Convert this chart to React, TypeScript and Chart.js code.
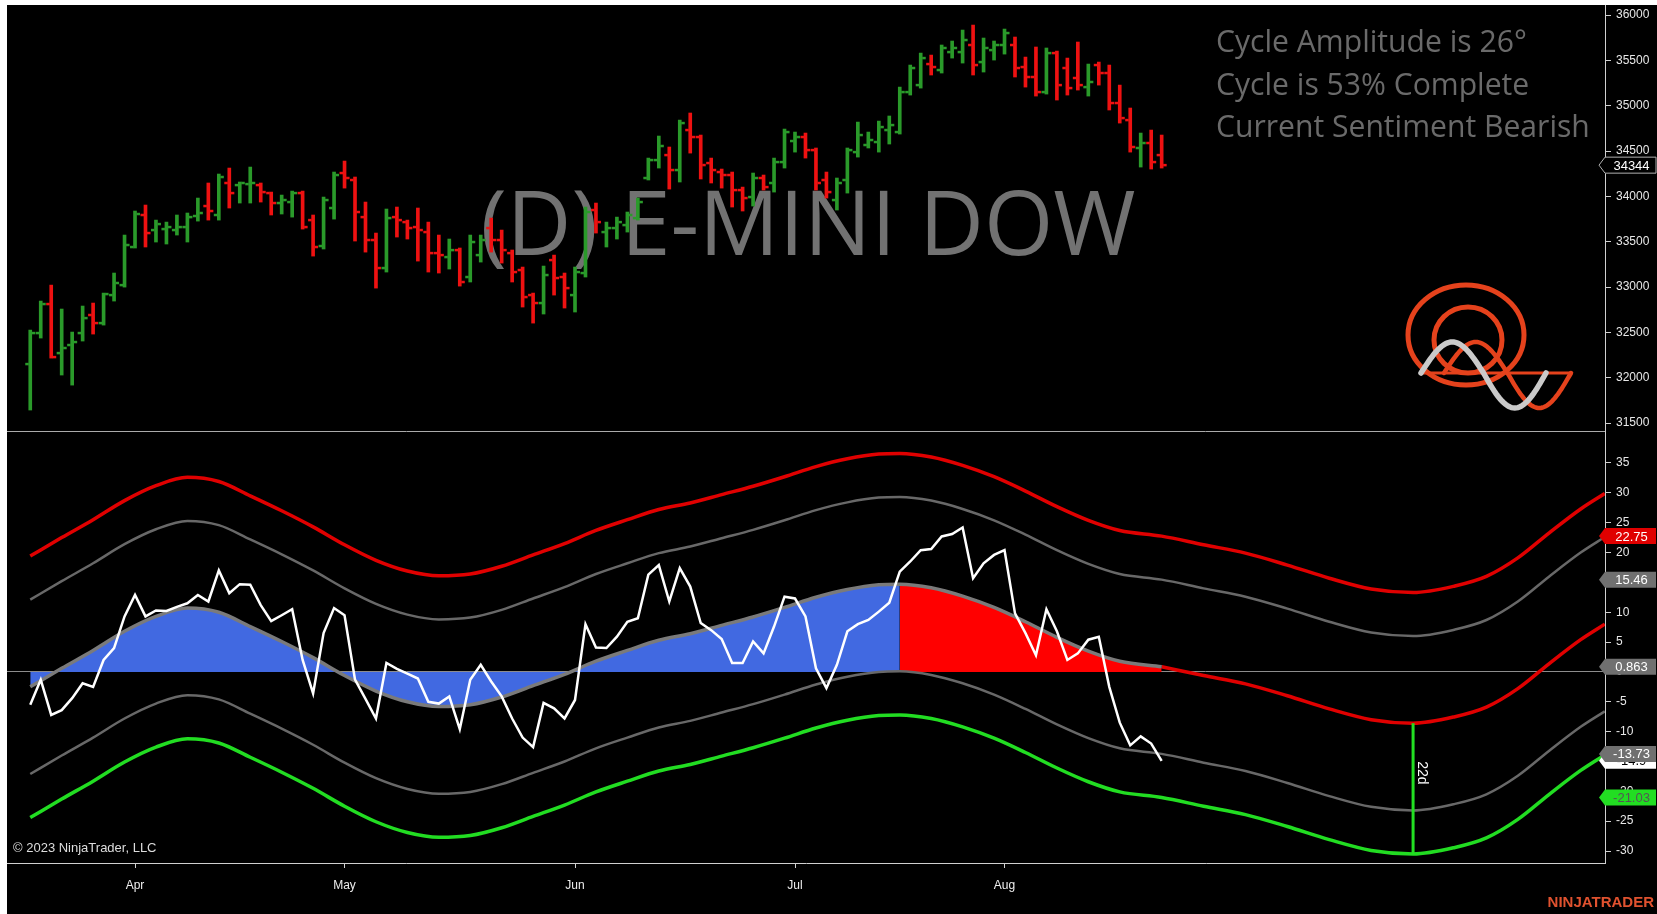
import React, { useEffect, useRef } from "react";
import { Chart, registerables } from "chart.js";
Chart.register(...registerables);

// ---------------- DATA ----------------
const barDates = [
  "03-20","03-21","03-22","03-23","03-24","03-27","03-28","03-29","03-30","03-31",
  "04-03","04-04","04-05","04-06","04-07","04-10","04-11","04-12","04-13","04-14",
  "04-17","04-18","04-19","04-20","04-21","04-24","04-25","04-26","04-27","04-28",
  "05-01","05-02","05-03","05-04","05-05","05-08","05-09","05-10","05-11","05-12",
  "05-15","05-16","05-17","05-18","05-19","05-22","05-23","05-24","05-25","05-26",
  "05-30","05-31","06-01","06-02","06-05","06-06","06-07","06-08","06-09","06-12",
  "06-13","06-14","06-15","06-16","06-20","06-21","06-22","06-23","06-26","06-27",
  "06-28","06-29","06-30","07-03","07-05","07-06","07-07","07-10","07-11","07-12",
  "07-13","07-14","07-17","07-18","07-19","07-20","07-21","07-24","07-25","07-26",
  "07-27","07-28","07-31","08-01","08-02","08-03","08-04","08-07","08-08","08-09",
  "08-10","08-11","08-14","08-15","08-16","08-17","08-18","08-21","08-22",
];

const opens = [
  32150,32492,32812,32271,32360,32492,32691,32602,32911,33021,
  33441,33794,33628,33639,33628,33661,33783,33893,33794,34147,
  34124,34135,34124,34036,33926,33937,34036,33738,33452,33871,
  34257,34180,33771,33518,33209,33771,33716,33661,33606,33374,
  33330,33407,33110,33352,33650,33518,33374,33187,32911,32823,
  33297,33110,32911,33154,33849,33606,33650,33683,33760,34202,
  34400,34455,34290,34731,34654,34367,34268,34235,34069,33992,
  34202,34147,34378,34610,34654,34510,34180,33959,34180,34488,
  34566,34599,34731,34709,35150,35227,35459,35393,35591,35591,
  35669,35481,35613,35669,35669,35426,35316,35150,35580,35415,
  35305,35205,35448,35360,35029,34841,34533,34588,34455,
];
const highs = [
  32525,32845,33021,32757,32503,32790,32823,32933,33154,33573,
  33838,33904,33738,33716,33794,33816,33981,34147,34246,34312,
  34158,34323,34147,34047,34014,34058,34058,33794,33992,34268,
  34389,34213,33937,33595,33860,33882,33738,33871,33716,33573,
  33529,33430,33573,33573,33760,33628,33408,33220,32933,33231,
  33352,33154,33220,33882,33926,33716,33771,33827,33981,34422,
  34665,34544,34841,34919,34676,34422,34301,34268,34102,34257,
  34235,34422,34742,34709,34698,34533,34268,34202,34533,34819,
  34709,34830,34886,35205,35448,35580,35558,35669,35713,35834,
  35889,35746,35713,35845,35757,35536,35647,35636,35602,35525,
  35702,35459,35481,35448,35227,34974,34698,34731,34676,
];
const lows = [
  31643,32437,32216,32029,31918,32404,32481,32580,32845,32999,
  33430,33441,33496,33474,33573,33496,33727,33738,33738,33871,
  33926,33926,33937,33794,33805,33771,33639,33341,33419,33749,
  34091,33507,33385,32988,33165,33551,33529,33286,33165,33154,
  33198,33010,33055,33275,33385,33264,33055,32779,32602,32702,
  32911,32768,32724,33110,33595,33441,33529,33606,33738,34180,
  34312,34080,34158,34477,34191,34147,34091,33882,33838,33893,
  34069,34047,34312,34488,34422,34069,33981,33849,34036,34433,
  34533,34488,34577,34687,35117,35194,35338,35360,35525,35470,
  35338,35371,35503,35569,35316,35205,35106,35128,35062,35117,
  35172,35106,35227,34952,34808,34488,34323,34301,34312,
];
const closes = [
  32492,32812,32227,32327,32393,32657,32602,32922,33044,33463,
  33805,33595,33694,33661,33661,33771,33816,33838,34213,34036,
  34147,34147,34047,33926,33959,34036,33661,33441,33959,34235,
  34202,33827,33518,33209,33760,33738,33650,33628,33374,33352,
  33407,33055,33496,33518,33518,33407,33165,32889,32823,33132,
  33099,32988,33165,33827,33716,33650,33716,33794,33937,34400,
  34555,34290,34808,34654,34345,34290,34235,34069,33981,34202,
  34102,34378,34709,34654,34510,34147,34047,34147,34510,34676,
  34621,34764,34786,35150,35415,35525,35426,35636,35636,35724,
  35448,35636,35669,35801,35415,35316,35150,35580,35227,35194,
  35227,35261,35360,35029,34863,34544,34588,34378,34344,
];
const priceTicks = [31500,32000,32500,33000,33500,34000,34500,35000,35500,36000];

const oscillator = [
  -5.5,-1.3,-7.2,-6.4,-4.4,-1.9,-2.5,2.0,4.0,9.3,
  12.9,9.3,10.3,10.2,10.9,11.5,12.9,11.8,17.0,13.2,
  14.7,14.6,11.2,8.5,9.5,10.5,2.0,-3.6,6.5,10.7,
  9.5,-1.3,-4.5,-7.8,1.5,0.5,-0.3,-1.1,-5.0,-5.3,
  -4.1,-9.6,-1.3,1.2,-1.6,-4.1,-7.8,-11.0,-12.6,-5.2,
  -6.1,-7.8,-4.7,8.0,4.1,4.0,5.9,8.4,9.0,16.3,
  17.9,11.8,17.4,14.3,8.2,7.0,5.5,1.5,1.5,5.1,
  3.1,7.6,12.6,12.3,9.3,0.6,-2.7,1.2,6.8,8.0,
  8.7,10.1,11.6,16.8,18.5,20.4,20.6,22.7,23.1,24.2,
  15.7,18.2,19.6,20.4,9.8,6.5,2.8,10.5,6.8,2.0,
  3.1,5.4,5.9,-2.5,-8.5,-12.3,-10.8,-12.0,-14.9,
];

// bar positions (0 = first bar, >108 = projection into the future)
const bandBars = [
  0,3,6,9,12,15,18,21,24,27,30,33,36,39,42,45,48,51,54,57,60,63,66,69,72,75,78,81,
  83,86,89,92,95,98,101,104,108,
  112,116,120,124,128,132,136,139,142,145,148,150.3,
];
const cycleLine = [
  -2.5,0.6,3.6,6.8,9.3,10.7,10.0,7.6,5.1,2.4,-0.6,-3.2,-5.0,-5.8,-5.5,-4.2,-2.3,-0.4,1.8,3.6,5.3,6.4,7.8,9.2,10.8,12.5,13.8,14.6,
  14.7,14.1,12.7,10.8,8.4,5.8,3.5,1.8,0.863,
  -0.6,-2.0,-4.0,-6.2,-8.0,-8.6,-7.5,-5.9,-2.8,1.4,5.4,8.0,
];
const upperOuterBand = [
  19.4,22.5,25.5,28.7,31.2,32.6,31.9,29.5,27.0,24.3,21.3,18.7,16.9,16.1,16.4,17.7,19.6,21.5,23.7,25.5,27.2,28.3,29.7,31.1,32.7,34.4,35.7,36.5,
  36.6,36.0,34.6,32.7,30.3,27.7,25.4,23.7,22.75,
  21.3,19.9,17.9,15.7,13.9,13.3,14.4,16.0,19.1,23.3,27.3,29.9,
];
const upperInnerBand = [
  12.1,15.2,18.2,21.4,23.9,25.3,24.6,22.2,19.7,17.0,14.0,11.4,9.6,8.8,9.1,10.4,12.3,14.2,16.4,18.2,19.9,21.0,22.4,23.8,25.4,27.1,28.4,29.2,
  29.3,28.7,27.3,25.4,23.0,20.4,18.1,16.4,15.46,
  14.0,12.6,10.6,8.4,6.6,6.0,7.1,8.7,11.8,16.0,20.0,22.6,
];
const lowerInnerBand = [
  -17.1,-14.0,-11.0,-7.8,-5.3,-3.9,-4.6,-7.0,-9.5,-12.2,-15.2,-17.8,-19.6,-20.4,-20.1,-18.8,-16.9,-15.0,-12.8,-11.0,-9.3,-8.2,-6.8,-5.4,-3.8,-2.1,-0.8,0.0,
  0.1,-0.5,-1.9,-3.8,-6.2,-8.8,-11.1,-12.8,-13.73,
  -15.2,-16.6,-18.6,-20.8,-22.6,-23.2,-22.1,-20.5,-17.4,-13.2,-9.2,-6.6,
];
const lowerOuterBand = [
  -24.4,-21.3,-18.3,-15.1,-12.6,-11.2,-11.9,-14.3,-16.8,-19.5,-22.5,-25.1,-26.9,-27.7,-27.4,-26.1,-24.2,-22.3,-20.1,-18.3,-16.6,-15.5,-14.1,-12.7,-11.1,-9.4,-8.1,-7.3,
  -7.2,-7.8,-9.2,-11.1,-13.5,-16.1,-18.4,-20.1,-21.03,
  -22.5,-23.9,-25.9,-28.1,-29.9,-30.5,-29.4,-27.8,-24.7,-20.5,-16.5,-13.9,
];
const oscTicks = [35,30,25,20,15,10,5,0,-5,-10,-15,-20,-25,-30];

const monthTickDates = ["04-03","05-01","06-01","07-03","08-01"];
const monthLabels = ["Apr","May","Jun","Jul","Aug"];

const peakBar = 83;
const projectionStartBar = 108;
const cycleLowBar = 132;
const cycleLowLabel = "22d";

const chartTitle = "(D) E-MINI DOW";
const infoLines = ["Cycle Amplitude is 26°", "Cycle is 53% Complete", "Current Sentiment Bearish"];
const copyrightText = "© 2023 NinjaTrader, LLC";
const brandText = "NINJATRADER";

// ---------------- LAYOUT / STYLE ----------------
const W = 1657;
const TOP_H = 431;
const BOT_H = 483;
const X_MIN = -2.22;
const X_MAX = 150.32;
const PRICE_MIN = 31411.8;
const PRICE_MAX = 36110.3;
const OSC_MIN = -32.01;
const OSC_MAX = 40.36;
const AXIS_W = 52;
const FONT = "'Liberation Sans', Arial, sans-serif";
const UP = "#2a9a2a";
const DOWN = "#ee1111";
const ORANGE = "#e5421c";

function drawTag(ctx: any, axisX: number, y: number, text: string, fill: string, stroke: string | null, color: string) {
  const h = 16, tip = 6, right = W - 1;
  ctx.save();
  ctx.beginPath();
  ctx.moveTo(axisX - tip, y);
  ctx.lineTo(axisX, y - h / 2);
  ctx.lineTo(right, y - h / 2);
  ctx.lineTo(right, y + h / 2);
  ctx.lineTo(axisX, y + h / 2);
  ctx.closePath();
  ctx.fillStyle = fill;
  ctx.fill();
  if (stroke) { ctx.strokeStyle = stroke; ctx.lineWidth = 1; ctx.stroke(); }
  ctx.fillStyle = color;
  ctx.font = `13px ${FONT}`;
  ctx.textAlign = "center";
  ctx.textBaseline = "middle";
  ctx.fillText(text, (axisX + right) / 2 + 1, y + 1);
  ctx.restore();
}

function drawWave(ctx: any, x0: number, base: number, period: number, up: number, down: number, color: string, w: number) {
  ctx.beginPath();
  for (let k = 0; k <= 80; k++) {
    const t = k / 80;
    const s = Math.sin(2 * Math.PI * t);
    const y = base - (s > 0 ? s * up : s * down);
    const x = x0 + t * period;
    if (k === 0) ctx.moveTo(x, y); else ctx.lineTo(x, y);
  }
  ctx.strokeStyle = color;
  ctx.lineWidth = w;
  ctx.lineCap = "round";
  ctx.stroke();
}

const priceDecor = {
  id: "priceDecor",
  beforeDatasetsDraw(chart: any) {
    const ctx = chart.ctx;
    ctx.save();
    let size = 88;
    ctx.font = `${size}px 'Open Sans'`;
    size = size * 655 / ctx.measureText(chartTitle).width;
    ctx.font = `${size}px 'Open Sans'`;
    ctx.fillStyle = "#727272";
    ctx.textAlign = "center";
    ctx.textBaseline = "alphabetic";
    ctx.fillText(chartTitle, 808, 255);
    let isz = 30;
    ctx.font = `${isz}px 'Open Sans'`;
    isz = isz * 374 / ctx.measureText(infoLines[2]).width;
    ctx.font = `${isz}px 'Open Sans'`;
    ctx.fillStyle = "#6a6a6a";
    ctx.textAlign = "left";
    const bases = [52, 95, 137];
    infoLines.forEach((t, i) => ctx.fillText(t, 1216, bases[i]));
    ctx.restore();
  },
  afterDatasetsDraw(chart: any) {
    const ctx = chart.ctx;
    const xs = chart.scales.x, ys = chart.scales.y;
    ctx.save();
    for (let i = 0; i < opens.length; i++) {
      const x = xs.getPixelForValue(i);
      ctx.fillStyle = closes[i] >= opens[i] ? UP : DOWN;
      const yo = ys.getPixelForValue(opens[i]);
      const yc = ys.getPixelForValue(closes[i]);
      ctx.fillRect(x - 1.5 - 3.5, yo - 1.25, 3.5, 2.5);
      ctx.fillRect(x + 1.5, yc - 1.25, 3.5, 2.5);
    }
    ctx.lineWidth = 5;
    ctx.strokeStyle = ORANGE;
    ctx.beginPath(); ctx.ellipse(1466, 335, 58, 50, 0, 0, Math.PI * 2); ctx.stroke();
    ctx.beginPath(); ctx.ellipse(1468, 340, 34, 33, 0, 0, Math.PI * 2); ctx.stroke();
    ctx.lineWidth = 3;
    ctx.beginPath(); ctx.moveTo(1421, 373); ctx.lineTo(1571, 373); ctx.stroke();
    drawWave(ctx, 1444, 373, 127, 31, 35, ORANGE, 4.5);
    drawWave(ctx, 1421, 373, 125, 31, 35, "#cacaca", 5.5);
    ctx.restore();
  },
  afterDraw(chart: any) {
    const ys = chart.scales.y;
    const last = closes[closes.length - 1];
    drawTag(chart.ctx, chart.chartArea.right, ys.getPixelForValue(last), String(last), "#000", "#b0b0b0", "#fff");
  },
};

const oscDecor = {
  id: "oscDecor",
  afterDatasetsDraw(chart: any) {
    const { ctx, chartArea, scales } = chart;
    ctx.save();
    ctx.strokeStyle = "#aaaaaa";
    ctx.lineWidth = 1;
    ctx.beginPath(); ctx.moveTo(chartArea.left, 0.5); ctx.lineTo(chartArea.right, 0.5); ctx.stroke();
    const k = bandBars.indexOf(cycleLowBar);
    const x = scales.x.getPixelForValue(cycleLowBar);
    const yT = scales.y.getPixelForValue(cycleLine[k]);
    const yB = scales.y.getPixelForValue(lowerOuterBand[k]);
    ctx.translate(x + 9, yT + 0.38 * (yB - yT));
    ctx.rotate(Math.PI / 2);
    ctx.fillStyle = "#ffffff";
    ctx.font = `14px ${FONT}`;
    ctx.textAlign = "center";
    ctx.textBaseline = "middle";
    ctx.fillText(cycleLowLabel, 0, 0);
    ctx.restore();
    ctx.save();
    ctx.fillStyle = "#dddddd";
    ctx.font = `13px ${FONT}`;
    ctx.textAlign = "left";
    ctx.textBaseline = "middle";
    ctx.fillText(copyrightText, 13, 417);
    ctx.fillStyle = "#e0522f";
    ctx.font = `bold 15px ${FONT}`;
    ctx.textAlign = "right";
    ctx.fillText(brandText, 1654, 472);
    ctx.restore();
  },
  afterDraw(chart: any) {
    const ys = chart.scales.y;
    const ax = chart.chartArea.right;
    const h = bandBars.indexOf(projectionStartBar);
    const ctx = chart.ctx;
    const ov = oscillator[oscillator.length - 1];
    drawTag(ctx, ax, ys.getPixelForValue(ov), String(ov), "#ffffff", null, "#000");
    drawTag(ctx, ax, ys.getPixelForValue(lowerInnerBand[h]), String(lowerInnerBand[h]), "#707070", null, "#fff");
    drawTag(ctx, ax, ys.getPixelForValue(lowerOuterBand[h]), String(lowerOuterBand[h]), "#22dd22", null, "#555");
    drawTag(ctx, ax, ys.getPixelForValue(cycleLine[h]), String(cycleLine[h]), "#707070", null, "#fff");
    drawTag(ctx, ax, ys.getPixelForValue(upperInnerBand[h]), String(upperInnerBand[h]), "#707070", null, "#fff");
    drawTag(ctx, ax, ys.getPixelForValue(upperOuterBand[h]), String(upperOuterBand[h]), "#e00000", null, "#fff");
  },
};

function pts(arr: number[], from = -Infinity, to = Infinity) {
  return bandBars.map((b, i) => ({ x: b, y: arr[i] })).filter((p) => p.x >= from && p.x <= to);
}

const yAxisFit = (s: any) => { s.width = AXIS_W; s.paddingTop = 0; s.paddingBottom = 0; };

export default function App() {
  const topRef = useRef<HTMLCanvasElement>(null);
  const botRef = useRef<HTMLCanvasElement>(null);

  useEffect(() => {
    document.body.style.margin = "0";
    document.body.style.overflow = "hidden";
    Chart.defaults.font.family = FONT;

    const top = new Chart(topRef.current as any, {
      type: "bar",
      data: {
        datasets: [{
          data: barDates.map((_, i) => ({ x: i, y: [lows[i], highs[i]] })) as any,
          backgroundColor: closes.map((c, i) => (c >= opens[i] ? UP : DOWN)),
          barThickness: 3,
          borderWidth: 0,
          grouped: false,
        } as any],
      },
      options: {
        animation: false,
        responsive: false,
        events: [],
        layout: { padding: { left: 7, top: 5, right: 0, bottom: 0 } },
        plugins: { legend: { display: false }, tooltip: { enabled: false } },
        scales: {
          x: { type: "linear", min: X_MIN, max: X_MAX, display: false, offset: false, grid: { offset: false } } as any,
          y: {
            position: "right", min: PRICE_MIN, max: PRICE_MAX, beginAtZero: false,
            afterBuildTicks: (a: any) => { a.ticks = priceTicks.map((v) => ({ value: v })); },
            afterFit: yAxisFit,
            ticks: { color: "#e8e8e8", font: { size: 12, family: FONT }, padding: 5, callback: (v: any) => String(v) },
            grid: { display: true, drawOnChartArea: false, tickLength: 6, tickColor: "#d0d0d0" },
            border: { display: true, color: "#d0d0d0" },
          } as any,
        },
      },
      plugins: [priceDecor],
    });

    const ci = bandBars.indexOf(cycleLowBar);
    const line = (data: any, color: string, width: number, order: number, extra: any = {}) => ({
      type: "line", data, borderColor: color, borderWidth: width, pointRadius: 0,
      cubicInterpolationMode: "monotone", fill: false, order, ...extra,
    });

    const bot = new Chart(botRef.current as any, {
      type: "line",
      data: {
        datasets: [
          line(oscillator.map((v, i) => ({ x: i, y: v })), "#ffffff", 2.5, 0, { cubicInterpolationMode: "default", tension: 0 }),
          line([{ x: cycleLowBar, y: cycleLine[ci] }, { x: cycleLowBar, y: lowerOuterBand[ci] }], "#22e022", 3, 1, { cubicInterpolationMode: "default", tension: 0 }),
          line(pts(cycleLine, -Infinity, projectionStartBar), "#7a7a7a", 3.5, 2),
          line(pts(cycleLine, projectionStartBar), "#e00000", 3.5, 3),
          line(pts(upperOuterBand), "#e00000", 3.5, 4),
          line(pts(upperInnerBand), "#686868", 2.5, 5),
          line(pts(lowerInnerBand), "#686868", 2.5, 6),
          line(pts(lowerOuterBand), "#22dd22", 3.5, 7),
          line(pts(cycleLine, -Infinity, peakBar), "rgba(0,0,0,0)", 1, 8, { fill: "origin", backgroundColor: "#4169e1" }),
          line(pts(cycleLine, peakBar, projectionStartBar), "rgba(0,0,0,0)", 1, 9, { fill: "origin", backgroundColor: "#ff0000" }),
        ] as any,
      },
      options: {
        animation: false,
        responsive: false,
        events: [],
        layout: { padding: { left: 7, top: 0, right: 0, bottom: 0 } },
        plugins: { legend: { display: false }, tooltip: { enabled: false }, filler: { propagate: false } },
        scales: {
          x: {
            type: "linear", min: X_MIN, max: X_MAX, offset: false,
            afterBuildTicks: (a: any) => { a.ticks = monthTickDates.map((d) => ({ value: barDates.indexOf(d) })); },
            afterFit: (s: any) => { s.height = BOT_H - 432; s.paddingLeft = 0; s.paddingRight = 0; },
            ticks: { color: "#eeeeee", font: { size: 12, family: FONT }, padding: 10, autoSkip: false, maxRotation: 0,
              callback: (_v: any, i: number) => monthLabels[i] },
            grid: { display: true, drawOnChartArea: false, tickLength: 5, tickColor: "#d0d0d0" },
            border: { display: true, color: "#d0d0d0" },
          } as any,
          y: {
            position: "right", min: OSC_MIN, max: OSC_MAX,
            afterBuildTicks: (a: any) => { a.ticks = oscTicks.map((v) => ({ value: v })); },
            afterFit: yAxisFit,
            ticks: { color: "#e8e8e8", font: { size: 12, family: FONT }, padding: 5, callback: (v: any) => String(v) },
            grid: {
              display: true, drawOnChartArea: true, tickLength: 6, tickColor: "#d0d0d0",
              color: (c: any) => (c.tick && c.tick.value === 0 ? "#8c8c8c" : "rgba(0,0,0,0)"),
            },
            border: { display: true, color: "#d0d0d0" },
          } as any,
        },
      },
      plugins: [oscDecor],
    });

    return () => { top.destroy(); bot.destroy(); };
  }, []);

  return (
    <div style={{ position: "absolute", left: 0, top: 0, width: W, height: TOP_H + BOT_H, background: "#ffffff", overflow: "hidden" }}>
      <div style={{ position: "absolute", left: 7, top: 5, width: W - 7, height: TOP_H + BOT_H - 5, background: "#000000" }} />
      <canvas ref={topRef} width={W} height={TOP_H} style={{ position: "absolute", left: 0, top: 0 }} />
      <canvas ref={botRef} width={W} height={BOT_H} style={{ position: "absolute", left: 0, top: TOP_H }} />
    </div>
  );
}
